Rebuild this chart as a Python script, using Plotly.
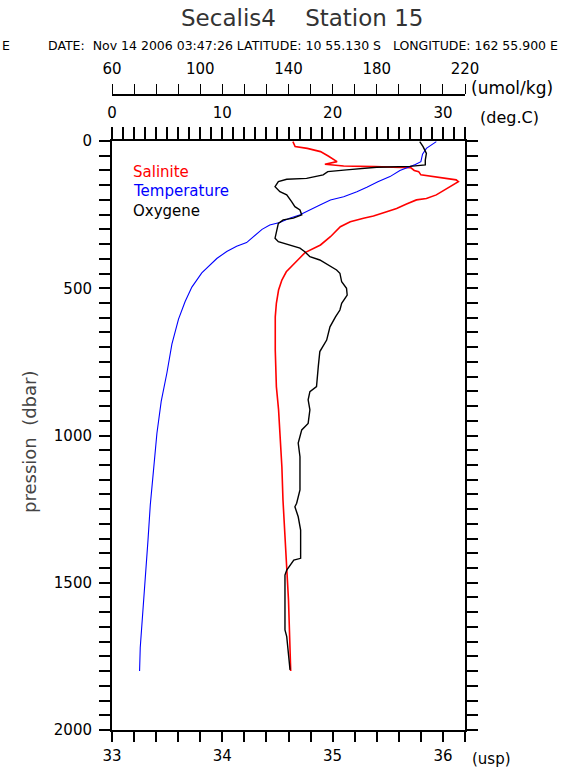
import plotly.graph_objects as go

# --- CTD profile, Secalis4 station 15 ---
# Salinity (usp) versus pressure (dbar)
sal_pres = [2, 19, 25, 36, 51, 70, 79, 85, 87, 89, 91, 100, 104, 115, 121, 127, 132, 138,
            149, 166, 183, 195, 200, 214, 229, 240, 255, 262, 274, 291, 325, 353, 370, 379,
            398, 421, 444, 472, 506, 551, 597, 710, 834, 913, 976, 1106, 1219, 1332, 1423,
            1559, 1694, 1800]
sal_vals = [34.64, 34.66, 34.77, 34.89, 34.96, 35.04, 34.93, 35.10, 35.38, 35.67, 35.71,
            35.74, 35.78, 35.80, 35.91, 36.03, 36.12, 36.14, 36.09, 36.02, 35.94, 35.85,
            35.76, 35.67, 35.58, 35.49, 35.37, 35.28, 35.16, 35.07, 34.98, 34.89, 34.79,
            34.75, 34.70, 34.64, 34.58, 34.54, 34.51, 34.49, 34.48, 34.48, 34.49, 34.51,
            34.52, 34.54, 34.55, 34.57, 34.58, 34.60, 34.61, 34.62]

# Temperature (deg.C) versus pressure (dbar)
temp_pres = [2, 25, 45, 70, 80, 88, 100, 121, 138, 157, 172, 189, 200, 217, 234, 251, 262,
             277, 285, 300, 345, 357, 375, 399, 448, 496, 545, 605, 690, 787, 884, 993,
             1115, 1236, 1357, 1478, 1624, 1721, 1800]
temp_vals = [29.4, 28.5, 28.15, 28.0, 27.5, 26.9, 26.1, 25.2, 24.1, 23.1, 22.2, 21.0, 19.8,
             18.85, 17.95, 17.0, 16.1, 15.2, 14.3, 13.6, 12.2, 11.3, 10.4, 9.5, 8.14, 7.24,
             6.63, 6.03, 5.43, 4.98, 4.46, 4.07, 3.77, 3.47, 3.26, 3.01, 2.77, 2.56, 2.50]

# Dissolved oxygen (umol/kg) versus pressure (dbar)
oxy_pres = [2, 19, 42, 65, 81, 86, 89, 93, 98, 104, 115, 127, 130, 138, 155, 172, 183, 206,
            223, 234, 251, 262, 268, 280, 302, 330, 342, 353, 364, 376, 393, 404, 421, 438,
            449, 478, 500, 523, 551, 574, 597, 631, 676, 715, 766, 834, 851, 879, 913, 959,
            981, 1026, 1072, 1185, 1230, 1242, 1276, 1321, 1417, 1423, 1457, 1474, 1615,
            1660, 1683, 1728, 1796]
oxy_vals = [199.5, 201.0, 202.5, 202.0, 202.0, 195.0, 180.0, 172.3, 166.3, 157.8, 155.7,
            148.2, 139.2, 135.4, 133.9, 136.1, 139.2, 141.4, 142.9, 145.2, 146.0, 142.2,
            137.6, 135.4, 134.6, 133.9, 135.4, 140.7, 145.2, 147.4, 149.7, 154.2, 158.0,
            161.8, 163.3, 164.1, 166.3, 166.6, 164.1, 163.3, 161.3, 158.8, 157.3, 154.2,
            153.5, 152.7, 149.7, 148.9, 149.7, 148.9, 146.0, 144.4, 145.2, 145.2, 143.7,
            142.9, 144.4, 145.5, 145.5, 142.4, 139.2, 138.4, 138.4, 138.4, 139.2, 139.9,
            140.7]

# Axis ticks and labels
sal_ticks = [round(33 + 0.2 * i, 1) for i in range(17)]
sal_labels = {33.0: "33", 34.0: "34", 35.0: "35", 36.0: "36"}
temp_ticks = list(range(0, 33))
temp_labels = {0: "0", 10: "10", 20: "20", 30: "30"}
oxy_ticks = list(range(60, 221, 10))
oxy_labels = {60: "60", 100: "100", 140: "140", 180: "180", 220: "220"}
pres_ticks = list(range(0, 2001, 50))
pres_labels = {0: "0", 500: "500", 1000: "1000", 1500: "1500", 2000: "2000"}

FONT = "DejaVu Sans"

fig = go.Figure()
fig.add_trace(go.Scatter(x=sal_vals, y=sal_pres, mode="lines", xaxis="x", yaxis="y",
                         line=dict(color="#ff0000", width=1.6), name="Salinite"))
fig.add_trace(go.Scatter(x=temp_vals, y=temp_pres, mode="lines", xaxis="x2", yaxis="y",
                         line=dict(color="#0000ff", width=1.1), name="Temperature"))
fig.add_trace(go.Scatter(x=oxy_vals, y=oxy_pres, mode="lines", xaxis="x3", yaxis="y",
                         line=dict(color="#000000", width=1.4), name="Oxygene"))

plot_h = 778 - 95 - 48
frame_top = (730 - 141) / plot_h

common = dict(showgrid=False, zeroline=False, ticks="outside", tickcolor="black",
              linecolor="black", showline=True)

fig.update_layout(
    width=579, height=778,
    margin=dict(l=112, r=114, t=95, b=48, autoexpand=False),
    paper_bgcolor="white", plot_bgcolor="white",
    showlegend=False,
    font=dict(family=FONT, color="black"),
    xaxis=dict(range=[33, 36.2], side="bottom", anchor="y",
               tickvals=sal_ticks, ticktext=[sal_labels.get(v, "") for v in sal_ticks],
               ticklen=10, tickwidth=1.5, linewidth=2, tickfont=dict(size=15),
               ticklabelstandoff=1, **common),
    xaxis2=dict(range=[0, 32], side="top", anchor="y", overlaying="x",
                tickvals=temp_ticks, ticktext=[temp_labels.get(v, "") for v in temp_ticks],
                ticklen=12, tickwidth=1.5, linewidth=2, tickfont=dict(size=15),
                ticklabelstandoff=3, **common),
    xaxis3=dict(range=[60, 220], side="top", anchor="free", position=1, overlaying="x",
                tickvals=oxy_ticks, ticktext=[oxy_labels.get(v, "") for v in oxy_ticks],
                ticklen=10, tickwidth=1.2, linewidth=1.5, tickfont=dict(size=15),
                ticklabelstandoff=4, **common),
    yaxis=dict(range=[2000, 0], domain=[0, frame_top], anchor="x",
               tickvals=pres_ticks, ticktext=[pres_labels.get(v, "") for v in pres_ticks],
               ticklen=11, tickwidth=1.5, linewidth=2, mirror="ticks",
               tickfont=dict(size=15), ticklabelstandoff=4,
               **common),
)

def px_x(px):
    return (px - 112) / (579 - 112 - 114)

def px_y(py):
    return (730 - py) / plot_h

notes = [
    ("Secalis4    Station 15", 302, 18, "center", 23, "#333", 0),
    ("DATE:  Nov 14 2006 03:47:26 LATITUDE: 10 55.130 S   LONGITUDE: 162 55.900 E",
     303, 46, "center", 12.5, "black", 0),
    ("E", 0, 46, "left", 12.5, "black", 0),
    ("(umol/kg)", 469, 88, "left", 17, "black", 0),
    ("(deg.C)", 478, 117, "left", 16, "black", 0),
    ("(usp)", 470, 759, "left", 15, "black", 0),
    ("Salinite", 131, 172, "left", 15, "#ff0000", 0),
    ("Temperature", 131, 191, "left", 15, "#0000ff", 0),
    ("Oxygene", 131, 211, "left", 15, "black", 0),
    ("pression  (dbar)", 29, 442, "center", 18, "#444", -90),
]
for text, x, y, anchor, size, color, angle in notes:
    fig.add_annotation(text=text, xref="paper", yref="paper", x=px_x(x), y=px_y(y),
                       xanchor=anchor, yanchor="middle", showarrow=False,
                       textangle=angle,
                       font=dict(size=size, color=color, family=FONT))

fig.write_html("out.html")
